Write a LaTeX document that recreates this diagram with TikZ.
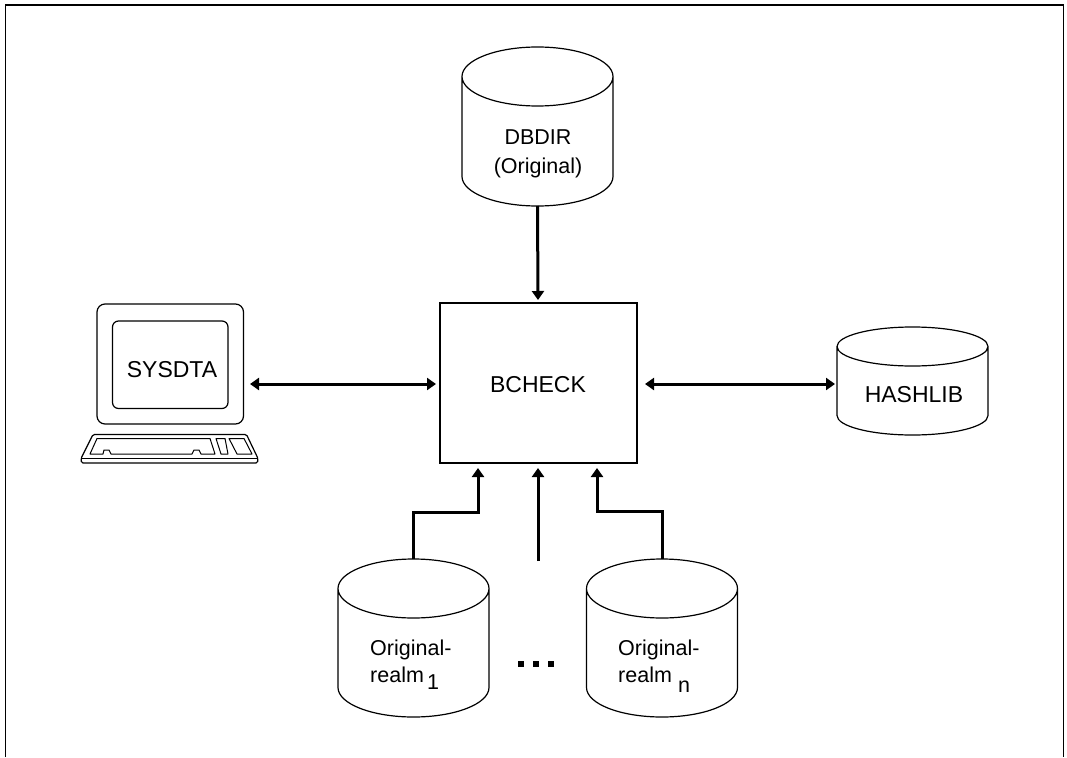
\documentclass[tikz,border=0pt]{standalone}
\usepackage{fontspec}
\setmainfont{Liberation Sans}
\usetikzlibrary{arrows.meta}
\tikzset{
  px/.style={x=1pt,y=-1pt},
  outline/.style={draw=black,line width=1.2pt,line join=round},
  fineline/.style={draw=black,line width=1pt,line join=round},
  conn/.style={draw=black,line width=3pt,line join=miter},
  tip/.style={-{Triangle[length=9pt,width=12pt]}},
  tips/.style={{Triangle[length=9pt,width=12pt]}-{Triangle[length=9pt,width=12pt]}},
  lbl/.style={font=\fontsize{23}{29}\selectfont,align=center,inner sep=0pt},
  lbs/.style={font=\fontsize{21.5}{27}\selectfont,align=left,inner sep=0pt},
  lbd/.style={font=\fontsize{21.5}{29}\selectfont,align=center,inner sep=0pt},
  dot/.style={fill=black,minimum size=6pt,inner sep=0pt},
}
\newcommand{\cylinder}[6]{% name, cx, top, bottom, ry, rx
  \draw[outline] (#2-#6,#3+#5) arc[x radius=#6,y radius=#5,start angle=180,end angle=-180]
    (#2-#6,#3+#5) -- (#2-#6,#4-#5)
    arc[x radius=#6,y radius=#5,start angle=180,end angle=0]
    -- (#2+#6,#3+#5);
  \coordinate (#1top) at (#2,#3);
  \coordinate (#1bot) at (#2,#4);
}
\begin{document}
\begin{tikzpicture}[px]
\useasboundingbox (0,0) rectangle (1067,757);
% frame
\coordinate (fbl) at (5.5,757); \coordinate (ftl) at (5.5,5);
\coordinate (ftr) at (1063.5,5); \coordinate (fbr) at (1063.5,757);
\draw[line width=1.3pt] (fbl) -- (ftl) -- (ftr) -- (fbr);
% cylinders
\cylinder{db}{537.5}{47}{206}{29.5}{75.5}
\cylinder{hash}{912.5}{327}{435}{19.5}{75.5}
\cylinder{ra}{413.5}{559}{717}{29.5}{75.5}
\cylinder{rb}{662}{559}{717}{29.5}{75.5}
\node[lbd] (dbt) at (538,154) {DBDIR\\(Original)};
\node[lbl] (hasht) at (914,395) {HASHLIB};
\node[lbs,anchor=north west] (rat) at (370,640) {Original-\\realm};
\node[lbs] (ras) at (433,682.5) {1};
\node[lbs,anchor=north west] (rbt) at (618,640) {Original-\\realm};
\node[lbs] (rbs) at (684,687) {n};
% main box
\node[draw=black,line width=1.2pt,minimum width=197pt,minimum height=160pt,inner sep=0pt] (bc) at (538.5,383) {};
\node[lbl] (bct) at (538,384.5) {BCHECK};
% terminal
\draw[outline,rounded corners=8pt] (97,304) rectangle (243.5,424);
\draw[outline,rounded corners=6pt] (112.5,321) rectangle (228,408.5);
\node[lbl] (sys) at (172,369.5) {SYSDTA};
% keyboard
\draw[outline,rounded corners=1.5pt] (93,434.5) -- (246.5,434.5) -- (258,458.5) -- (257.5,463) -- (81.5,463) -- (81,458.5) -- cycle;
\draw[fineline] (81,458.5) -- (258,458.5);
\draw[fineline] (97,438.5) -- (210,438.5) -- (215,454) -- (201,454) -- (199,450) -- (194,450) -- (192,454) -- (111,454) -- (109,450) -- (104,450) -- (103,454) -- (90,454) -- cycle;
\draw[fineline] (216,438.5) -- (225,438.5) -- (228,454) -- (221,454) -- cycle;
\draw[fineline] (229,438.5) -- (244,438.5) -- (252,454) -- (237,454) -- cycle;
% connectors
\coordinate (sysr) at (250,384);
\coordinate (bcl) at (436,384);
\coordinate (bcr) at (645,384);
\coordinate (hashin) at (835,384);
\coordinate (inT) at (538,300);
\coordinate (inA) at (478,468);
\coordinate (inM) at (538,468);
\coordinate (inB) at (597,468);
\coordinate (freeM) at (538,561);
\draw[conn,tip] (dbbot) -- (inT);
\draw[conn,tips] (sysr) -- (bcl);
\draw[conn,tips] (bcr) -- (hashin);
\draw[conn,tip] (ratop) -- (ratop |- 0,512) -| (inA);
\draw[conn,tip] (freeM) -- (inM);
\draw[conn,tip] (rbtop) -- (rbtop |- 0,511) -| (inB);
% dots
\node[dot] (d1) at (521,664) {};
\node[dot] (d2) at (536,664) {};
\node[dot] (d3) at (551,664) {};
\end{tikzpicture}
\end{document}
